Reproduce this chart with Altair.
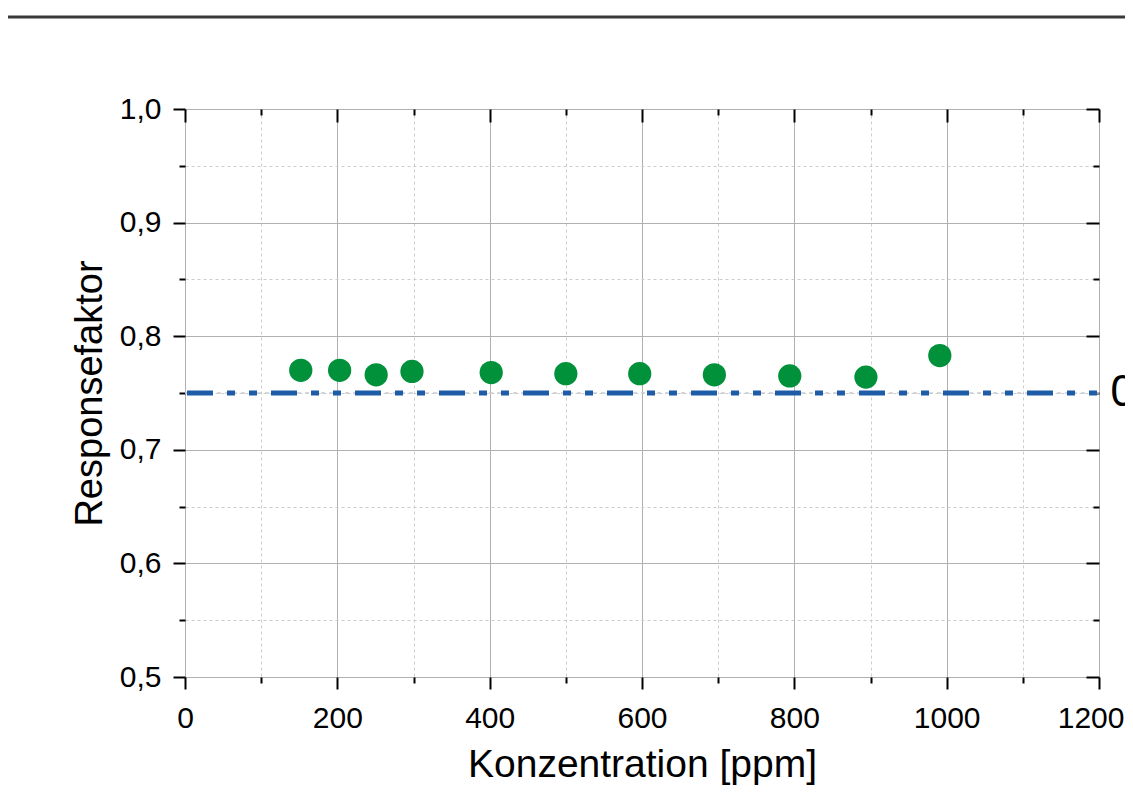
import altair as alt
import pandas as pd

# ---- data ----
konzentration = [152, 203, 251, 298, 402, 500, 597, 695, 794, 894, 991]
responsefaktor = [0.770, 0.770, 0.766, 0.769, 0.768, 0.767, 0.767, 0.766, 0.765, 0.764, 0.783]
ref_value = [0.75]
ref_label = ["0,75"]

x_major = [0, 200, 400, 600, 800, 1000, 1200]
x_minor = [100, 300, 500, 700, 900, 1100]
y_major = [0.5, 0.6, 0.7, 0.8, 0.9, 1.0]
y_minor = [0.55, 0.65, 0.75, 0.85, 0.95]
x_domain = [0, 1200]
y_domain = [0.5, 1.0]

pts = pd.DataFrame({"x": konzentration, "y": responsefaktor})
ref = pd.DataFrame({"y": ref_value, "label": ref_label,
                    "x0": [x_domain[0]], "x1": [x_domain[1]]})

FONT = "Liberation Sans"
xs = alt.Scale(domain=x_domain, nice=False, zero=False)
ys = alt.Scale(domain=y_domain, nice=False, zero=False)
ylab = "replace(format(datum.value, '.1f'), '.', ',')"
xlab = f"datum.value >= {x_domain[1]} ? '' : format(datum.value, 'd')"


def ax(orient, values, size, offset=0, labels=False, grid=False, minor=False, title=None, **kw):
    args = dict(
        orient=orient, values=values, tickSize=size, tickWidth=2, tickColor="black",
        domain=False, labels=labels, grid=grid, offset=offset, title=title,
    )
    if grid:
        if minor:
            args.update(gridColor="#cccccc", gridDash=[3, 3], gridWidth=1)
        else:
            args.update(gridColor="#b0b0b0", gridWidth=1)
    args.update(kw)
    return alt.Axis(**args)


# main points with bottom/left major axes
points = alt.Chart(pts).mark_circle(size=540, color="#00913a", opacity=1).encode(
    x=alt.X("x:Q", scale=xs, axis=ax(
        "bottom", x_major, 12, labels=True, grid=True, title="Konzentration [ppm]",
        labelFont=FONT, labelFontSize=30, labelColor="black", labelPadding=14,
        labelFlush=False, labelOverlap=False, labelExpr=xlab,
        titleFont=FONT, titleFontSize=39, titleFontWeight="normal", titleColor="black",
        titleBaseline="alphabetic", titleY=99)),
    y=alt.Y("y:Q", scale=ys, axis=ax(
        "left", y_major, 12, labels=True, grid=True, title="Responsefaktor",
        labelFont=FONT, labelFontSize=30, labelColor="black", labelPadding=12,
        labelExpr=ylab, labelOverlap=False, labelFlush=False,
        titleFont=FONT, titleFontSize=38, titleFontWeight="normal", titleColor="black",
        titleBaseline="alphabetic", titleX=-84)),
)

minor_out = alt.Chart(pts).mark_point(opacity=0).encode(
    x=alt.X("x:Q", scale=xs, axis=ax("bottom", x_minor, 6, grid=True, minor=True)),
    y=alt.Y("y:Q", scale=ys, axis=ax("left", y_minor, 6, grid=True, minor=True)),
)

major_in = alt.Chart(pts).mark_point(opacity=0).encode(
    x=alt.X("x:Q", scale=xs, axis=ax("top", x_major, 13, offset=-13)),
    y=alt.Y("y:Q", scale=ys, axis=ax("right", y_major, 13, offset=-13)),
)

minor_in = alt.Chart(pts).mark_point(opacity=0).encode(
    x=alt.X("x:Q", scale=xs, axis=ax("top", x_minor, 6, offset=-6)),
    y=alt.Y("y:Q", scale=ys, axis=ax("right", y_minor, 6, offset=-6)),
)

# last x label, pulled flush so it stays inside the page
end_label = alt.Chart(pts).mark_point(opacity=0).encode(
    x=alt.X("x:Q", scale=xs, axis=alt.Axis(
        orient="bottom", values=[x_domain[1]], ticks=False, domain=False, grid=False,
        labels=True, title=None, format="d", labelFont=FONT, labelFontSize=30,
        labelColor="black", labelPadding=26, labelFlush=True, labelFlushOffset=25,
        labelOverlap=False)),
)

ref_line = alt.Chart(ref).mark_rule(
    color="#1f5ca8", strokeWidth=5, strokeDash=[26, 14, 8, 14, 8, 14], strokeDashOffset=82
).encode(
    x=alt.X("x0:Q", scale=xs, axis=None), x2="x1:Q",
    y=alt.Y("y:Q", scale=ys, axis=None),
)

ref_dots = alt.Chart(ref).mark_rule(
    color="#c9ccd3", strokeWidth=1.5, strokeDash=[4, 4]
).encode(
    x=alt.X("x0:Q", scale=xs, axis=None), x2="x1:Q",
    y=alt.Y("y:Q", scale=ys, axis=None),
)

ref_text = alt.Chart(ref).mark_text(
    font="Noto Sans", fontSize=44, align="left", baseline="middle", color="black"
).encode(
    x=alt.value(925),
    y=alt.Y("y:Q", scale=ys, axis=None),
    text="label:N",
)

top_line = alt.Chart(ref).mark_rule(color="#3a3a3a", strokeWidth=3).encode(
    x=alt.value(-177), x2=alt.value(960), y=alt.value(-92)
)

chart = alt.layer(
    minor_out, points, major_in, minor_in, end_label, ref_dots, ref_line, ref_text, top_line
).resolve_axis(
    x="independent", y="independent"
).properties(
    width=914, height=568,
    autosize=alt.AutoSizeParams(type="none"),
    padding={"left": 177, "top": 101, "right": 26, "bottom": 109},
).configure_view(
    stroke="black", strokeWidth=2
).configure(background="white")

chart.save("out.html", embed_options={"renderer": "svg", "actions": False})
